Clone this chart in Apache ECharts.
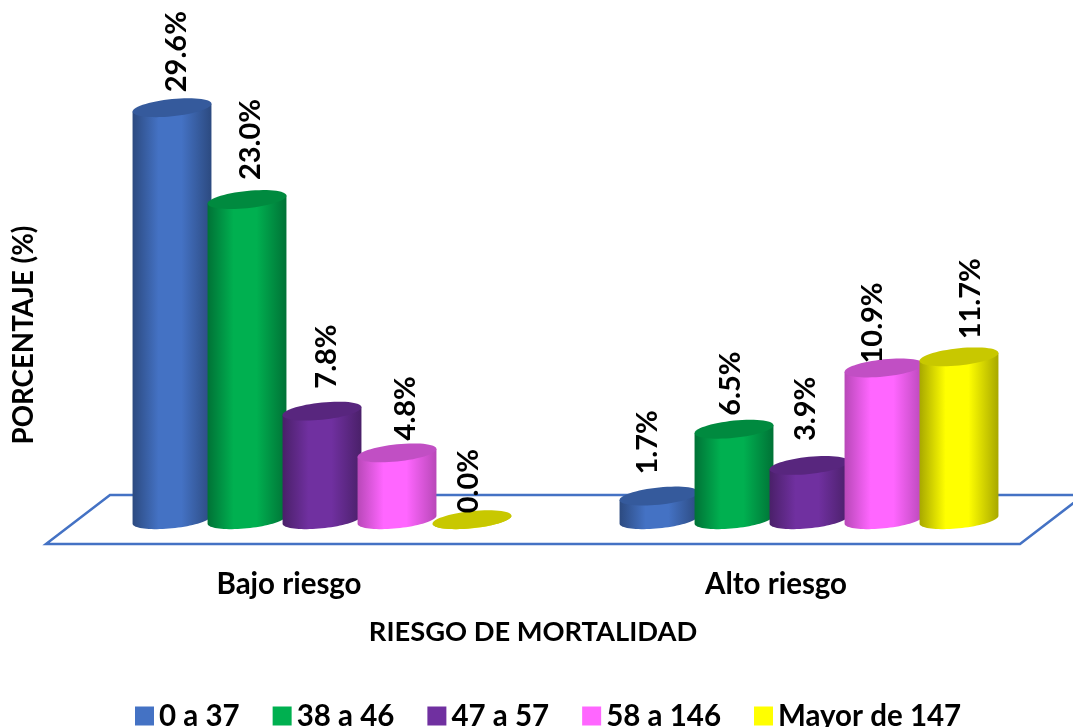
<!DOCTYPE html>
<html>
<head>
<meta charset="utf-8">
<style>html,body{margin:0;padding:0;background:#fff}#chart{width:1073px;height:727px}</style>
<script src="https://cdn.jsdelivr.net/npm/echarts@6/dist/echarts.min.js"></script>
</head>
<body>
<div id="chart"></div>
<script>
// Mortality risk groups and the share of patients in each score band
const categories = ['Bajo riesgo', 'Alto riesgo'];
const bandNames = ['0 a 37', '38 a 46', '47 a 57', '58 a 146', 'Mayor de 147'];
const band0to37 = [29.6, 1.7];
const band38to46 = [23.0, 6.5];
const band47to57 = [7.8, 3.9];
const band58to146 = [4.8, 10.9];
const bandOver147 = [0.0, 11.7];
const bandValues = [band0to37, band38to46, band47to57, band58to146, bandOver147];

// Cylinder shading per band
const palette = [
  { base: '#4472C4', edge: '#2C4A80', cap: '#355A9C' },
  { base: '#00B050', edge: '#007236', cap: '#008A3F' },
  { base: '#7030A0', edge: '#4A2069', cap: '#58267E' },
  { base: '#FF66FF', edge: '#B848B8', cap: '#C14FC4' },
  { base: '#FFFF00', edge: '#A8A800', cap: '#C8C800' }
];

// Hand-placed value labels: [dx, dy] from the default spot above each cap
const labelNudge = [
  [[5, 2], [-11, -4]],
  [[4, -2], [-3, 4]],
  [[5, -5], [-3, -7]],
  [[9, 5], [-11, 13]],
  [[-3, 11], [12, 0]]
];

const FONT = 'Lato, "Open Sans", sans-serif';
const STEP = 0.154;    // column spacing as a share of the category band
const WIDTH = 0.162;   // column width as a share of the category band
const CAP_RATIO = 0.218;
const CAP_TILT = 0.1;

function capPoints(cx, cy, a, from, to, n) {
  const pts = [];
  for (let i = 0; i <= n; i++) {
    const t = from + (to - from) * i / n;
    pts.push([
      cx + a * Math.cos(t),
      cy - a * CAP_TILT * Math.cos(t) + a * CAP_RATIO * Math.sin(t)
    ]);
  }
  return pts;
}

function renderCylinder(params, api) {
  const s = params.seriesIndex;
  const cat = api.value(0);
  const value = api.value(1);
  const band = api.size([1, 0])[0];
  const a = band * WIDTH / 2;
  const center = api.coord([cat, 0]);
  const cx = center[0] + (s - 2) * band * STEP;
  const base = center[1];
  const top = api.coord([cat, value])[1];
  const c = palette[s];

  const body = [[cx - a, top + a * CAP_TILT]]
    .concat(capPoints(cx, base, a, Math.PI, 0, 40))
    .concat([[cx + a, top - a * CAP_TILT]]);
  const capHalf = Math.sqrt(Math.pow(a * CAP_RATIO, 2) + Math.pow(a * CAP_TILT, 2));
  const nudge = labelNudge[s][cat];

  return {
    type: 'group',
    children: [
      {
        type: 'polygon',
        z2: s * 2,
        shape: { points: body },
        style: {
          fill: new echarts.graphic.LinearGradient(0, 0, 1, 0, [
            { offset: 0, color: c.edge },
            { offset: 0.33, color: c.base },
            { offset: 0.62, color: c.base },
            { offset: 1, color: c.edge }
          ])
        }
      },
      {
        type: 'polygon',
        z2: s * 2 + 1,
        shape: { points: capPoints(cx, top, a, 0, Math.PI * 2, 60) },
        style: { fill: c.cap }
      },
      {
        type: 'text',
        z2: 100,
        x: cx + nudge[0],
        y: top - capHalf - 8 + nudge[1],
        rotation: Math.PI / 2,
        style: {
          text: value.toFixed(1) + '%',
          fill: '#000',
          font: 'bold 29px ' + FONT,
          align: 'left',
          verticalAlign: 'middle'
        }
      }
    ]
  };
}

const chart = echarts.init(document.getElementById('chart'), null, { renderer: 'canvas' });
chart.setOption({
  animation: false,
  backgroundColor: '#fff',
  grid: { left: 78.5, width: 974, top: 32.5, height: 487.2 },
  xAxis: {
    type: 'category',
    data: categories,
    axisLine: { show: false },
    axisTick: { show: false },
    axisLabel: {
      margin: 50,
      padding: [0, 66, 0, 0],
      color: '#000',
      fontFamily: FONT,
      fontWeight: 'bold',
      fontSize: 29.5
    }
  },
  yAxis: { type: 'value', min: 0, max: 35, show: false },
  legend: {
    left: 130,
    top: 696,
    icon: 'rect',
    itemWidth: 19,
    itemHeight: 19,
    itemGap: 33,
    selectedMode: false,
    textStyle: { color: '#000', fontFamily: FONT, fontWeight: 'bold', fontSize: 29.5 },
    data: bandNames
  },
  graphic: [
    {
      type: 'polygon',
      z: 0,
      shape: { points: [[46, 544], [1020, 544], [1084, 495], [110, 495]] },
      style: { fill: 'none', stroke: '#4472C4', lineWidth: 2.5 }
    },
    {
      type: 'text',
      z: 5,
      x: 533,
      y: 632,
      style: {
        text: 'RIESGO DE MORTALIDAD',
        fill: '#000',
        font: 'bold 27.3px ' + FONT,
        align: 'center',
        verticalAlign: 'middle'
      }
    },
    {
      type: 'text',
      z: 5,
      x: 24,
      y: 335,
      rotation: Math.PI / 2,
      style: {
        text: 'PORCENTAJE (%)',
        fill: '#000',
        font: 'bold 27.7px ' + FONT,
        align: 'center',
        verticalAlign: 'middle'
      }
    }
  ],
  series: bandNames.map(function (name, i) {
    return {
      name: name,
      type: 'custom',
      coordinateSystem: 'cartesian2d',
      clip: false,
      silent: true,
      z: 2,
      itemStyle: { color: palette[i].base },
      encode: { x: 0, y: 1 },
      renderItem: renderCylinder,
      data: bandValues[i].map(function (v, c) { return [c, v]; })
    };
  })
});
</script>
</body>
</html>
